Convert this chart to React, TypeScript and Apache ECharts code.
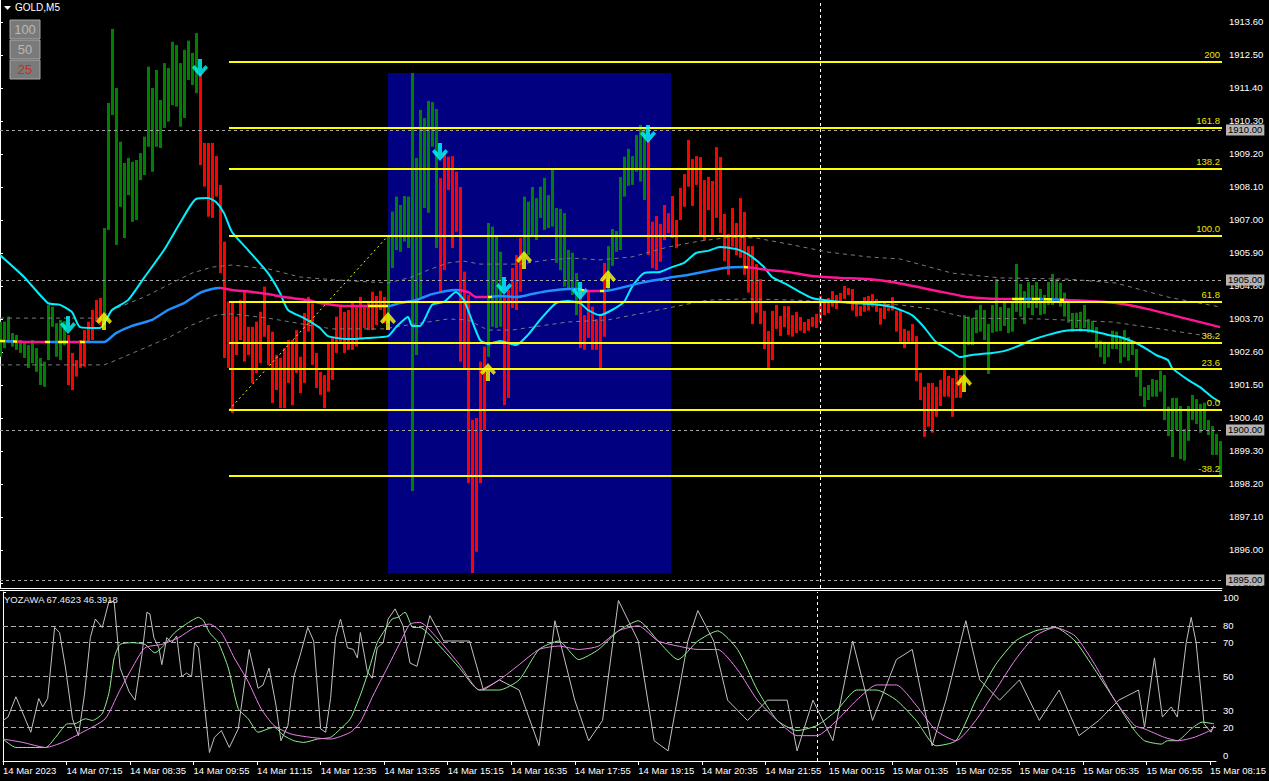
import React, { useEffect, useRef } from 'react';
import * as echarts from 'echarts';

const tickLabels = ['14 Mar 2023','14 Mar 07:15','14 Mar 08:35','14 Mar 09:55','14 Mar 11:15','14 Mar 12:35','14 Mar 13:55','14 Mar 15:15','14 Mar 16:35','14 Mar 17:55','14 Mar 19:15','14 Mar 20:35','14 Mar 21:55','15 Mar 00:15','15 Mar 01:35','15 Mar 02:55','15 Mar 04:15','15 Mar 05:35','15 Mar 06:55','15 Mar 08:15'];
const priceTicks = [1913.6,1912.5,1911.4,1910.3,1909.2,1908.1,1907.0,1905.9,1904.8,1903.7,1902.6,1901.5,1900.4,1899.3,1898.2,1897.1,1896.0,1894.9];
const oscTicks = [100,80,70,50,30,20,0];

const barTop = [1903.61,1903.61,1903.78,1903.23,1903.17,1903.00,1902.94,1902.83,1903.00,1902.73,1902.40,1902.28,1904.17,1904.11,1903.56,1903.67,1903.63,1903.17,1902.57,1902.33,1903.00,1903.33,1903.61,1904.00,1904.33,1904.40,1906.73,1910.90,1913.37,1911.40,1909.61,1908.90,1909.07,1908.94,1909.00,1909.23,1909.78,1912.11,1911.40,1912.00,1911.00,1912.23,1912.07,1912.94,1912.83,1912.23,1912.67,1912.98,1912.57,1913.23,1911.90,1909.57,1909.57,1909.57,1909.13,1908.17,1906.28,1904.28,1904.23,1903.78,1904.33,1904.61,1903.44,1903.44,1903.61,1903.94,1904.78,1903.50,1903.28,1902.50,1902.40,1902.73,1903.00,1903.00,1903.33,1902.44,1903.90,1904.44,1904.22,1902.57,1901.94,1901.83,1902.94,1903.11,1903.78,1904.17,1903.94,1904.00,1904.23,1904.11,1904.44,1904.17,1904.23,1904.61,1904.47,1904.64,1904.44,1906.44,1907.28,1907.78,1907.50,1907.80,1907.78,1911.90,1909.07,1910.67,1910.40,1910.97,1910.93,1910.70,1908.40,1909.23,1909.11,1909.13,1908.61,1908.10,1905.28,1904.50,1900.33,1900.40,1902.28,1902.78,1906.90,1906.78,1906.44,1905.94,1904.44,1904.67,1905.40,1905.83,1906.40,1907.78,1907.61,1908.10,1907.73,1908.11,1908.40,1907.83,1908.67,1907.40,1907.37,1907.23,1906.00,1905.91,1905.23,1904.61,1903.83,1904.61,1904.11,1903.70,1903.83,1905.57,1906.13,1906.70,1906.63,1908.43,1909.11,1909.37,1909.13,1909.83,1910.17,1910.07,1909.67,1906.94,1907.13,1906.87,1907.50,1907.23,1907.80,1907.00,1908.07,1908.53,1909.67,1909.03,1909.13,1909.10,1908.33,1908.44,1908.30,1909.43,1909.10,1907.20,1906.53,1907.40,1906.90,1907.73,1907.27,1906.13,1906.13,1905.53,1905.03,1903.97,1903.30,1903.97,1904.17,1903.80,1904.13,1904.13,1903.83,1903.93,1903.77,1903.60,1903.70,1903.77,1903.87,1904.47,1904.30,1904.40,1904.63,1904.50,1904.57,1904.80,1904.73,1904.70,1904.24,1904.13,1904.43,1904.47,1904.53,1904.37,1904.07,1904.24,1904.08,1904.43,1903.98,1903.97,1903.37,1903.31,1903.53,1903.13,1901.91,1901.44,1901.57,1901.57,1901.44,1901.67,1902.00,1901.80,1901.73,1902.00,1901.83,1903.83,1903.78,1903.73,1904.00,1904.17,1904.00,1903.53,1904.17,1905.03,1904.10,1904.31,1904.07,1904.23,1905.53,1904.87,1904.63,1904.93,1904.83,1904.93,1904.70,1904.50,1904.93,1905.20,1905.03,1904.91,1904.58,1904.23,1903.90,1903.91,1903.94,1904.17,1903.70,1903.64,1903.43,1902.98,1902.94,1902.94,1903.31,1903.28,1903.10,1903.33,1903.10,1902.94,1902.70,1902.00,1901.43,1901.50,1901.70,1901.67,1901.98,1901.83,1900.78,1901.07,1901.07,1900.80,1900.03,1900.80,1901.17,1901.03,1900.87,1900.91,1900.33,1900.13,1899.87,1899.63];
const barBottom = [1902.44,1902.73,1902.90,1902.78,1902.67,1902.57,1902.40,1902.07,1902.23,1901.94,1901.50,1901.44,1902.33,1903.44,1902.44,1902.33,1902.83,1901.50,1901.33,1901.78,1902.07,1902.11,1902.90,1903.00,1903.61,1903.50,1903.61,1906.67,1910.50,1906.17,1907.44,1906.40,1907.83,1906.94,1907.00,1908.33,1908.50,1909.44,1908.61,1909.44,1909.40,1910.07,1910.28,1910.83,1910.78,1910.11,1910.40,1911.67,1911.50,1911.23,1908.83,1908.11,1907.11,1907.07,1907.78,1905.23,1902.40,1902.07,1900.57,1902.50,1903.00,1902.28,1902.50,1901.57,1901.90,1902.23,1903.11,1902.17,1900.90,1901.33,1900.73,1900.73,1901.57,1900.83,1901.90,1901.23,1901.57,1903.28,1902.17,1901.40,1901.17,1900.73,1901.28,1901.67,1902.57,1902.94,1902.57,1902.67,1902.67,1902.78,1903.07,1903.40,1903.33,1903.33,1903.50,1904.00,1903.57,1903.57,1905.40,1906.00,1905.94,1906.28,1906.07,1897.97,1902.50,1904.44,1907.40,1907.24,1909.44,1906.07,1904.61,1905.33,1908.00,1906.07,1906.61,1902.28,1902.07,1898.23,1895.23,1895.94,1898.23,1900.00,1902.44,1903.44,1903.40,1903.44,1900.83,1901.07,1904.07,1904.00,1904.61,1905.78,1905.83,1906.44,1906.33,1907.07,1906.67,1906.73,1906.78,1905.57,1905.33,1904.78,1904.67,1904.50,1903.83,1902.73,1902.67,1903.07,1902.67,1902.67,1902.07,1903.11,1904.61,1905.47,1905.94,1906.00,1907.78,1908.14,1908.17,1908.61,1908.28,1907.67,1905.83,1905.40,1905.33,1905.61,1906.33,1906.57,1906.40,1906.07,1907.00,1907.44,1908.11,1907.47,1908.17,1906.43,1906.31,1907.33,1906.47,1907.07,1906.57,1905.63,1905.17,1906.11,1905.83,1905.74,1905.17,1904.58,1903.53,1903.91,1903.53,1902.70,1902.07,1902.33,1903.37,1903.13,1903.43,1903.17,1903.11,1903.23,1903.31,1903.23,1903.31,1903.44,1903.40,1903.58,1903.83,1903.90,1904.11,1904.03,1904.24,1904.37,1904.50,1903.98,1903.78,1903.80,1903.94,1903.98,1904.11,1903.94,1903.51,1903.70,1903.97,1903.98,1903.28,1902.94,1902.73,1902.94,1902.94,1901.63,1901.00,1899.77,1900.11,1899.91,1900.44,1900.80,1901.11,1901.11,1900.44,1901.07,1901.07,1901.50,1902.83,1902.83,1903.23,1903.28,1903.00,1901.87,1903.24,1903.28,1903.30,1903.47,1903.23,1903.28,1903.94,1903.78,1903.53,1904.07,1903.83,1904.07,1903.83,1903.87,1904.17,1904.17,1904.33,1904.11,1903.78,1903.58,1903.28,1903.40,1903.28,1903.40,1903.24,1903.23,1902.73,1902.43,1902.20,1902.43,1902.70,1902.70,1902.23,1902.43,1902.31,1902.50,1901.77,1901.13,1900.77,1901.00,1901.11,1901.11,1901.28,1900.33,1899.80,1899.10,1900.00,1899.03,1898.98,1899.64,1900.33,1900.20,1899.91,1900.00,1899.83,1899.17,1899.17,1898.44];
// runs of bar colours: G = rising (green), R = falling (red)
const barColorRuns: [number, string][] = [[17,'G'],[9,'R'],[24,'G'],[47,'R'],[13,'G'],[12,'R'],[4,'G'],[5,'R'],[14,'G'],[7,'R'],[10,'G'],[79,'R'],[65,'G']];

const fastMA: [number, number][] = [[0,1905.83],[6,1905.10],[12,1904.23],[15,1904.17],[18,1903.93],[20,1903.43],[25,1903.40],[28,1904.00],[32,1904.33],[36,1905.07],[41,1906.00],[45,1906.90],[49,1907.70],[52,1907.73],[54,1907.60],[56,1907.23],[58,1906.60],[62,1906.00],[67,1905.23],[70,1904.57],[72,1904.00],[76,1903.73],[80,1903.40],[82,1903.13],[87,1903.03],[92,1903.07],[97,1903.13],[99,1903.43],[102,1903.77],[103,1903.47],[105,1903.47],[108,1904.17],[111,1904.27],[114,1904.60],[116,1904.33],[117,1904.00],[120,1903.00],[122,1902.87],[125,1902.97],[129,1902.83],[132,1903.17],[135,1903.67],[139,1904.23],[142,1904.30],[145,1904.23],[147,1904.00],[150,1903.83],[153,1904.00],[156,1904.27],[158,1904.77],[161,1905.23],[165,1905.27],[168,1905.43],[171,1905.57],[174,1905.90],[177,1905.97],[180,1906.10],[184,1906.03],[186,1905.93],[188,1905.77],[191,1905.43],[193,1905.10],[197,1904.83],[200,1904.60],[203,1904.40],[206,1904.33],[213,1904.23],[218,1904.20],[223,1904.10],[228,1903.83],[231,1903.43],[234,1902.93],[238,1902.60],[240,1902.43],[243,1902.50],[248,1902.57],[251,1902.63],[254,1902.77],[258,1903.00],[262,1903.17],[266,1903.30],[270,1903.33],[273,1903.30],[277,1903.17],[280,1903.10],[284,1902.90],[287,1902.67],[289,1902.50],[292,1902.33],[293,1902.07],[297,1901.67],[300,1901.43],[303,1901.10],[305,1900.93]];
const slowMA: [number, number][] = [[0,1902.97],[10,1902.93],[20,1902.93],[26,1902.93],[29,1903.23],[33,1903.47],[38,1903.67],[42,1904.00],[46,1904.23],[50,1904.57],[53,1904.70],[55,1904.73],[58,1904.67],[63,1904.60],[67,1904.53],[71,1904.43],[77,1904.33],[80,1904.23],[86,1904.13],[92,1904.13],[97,1904.13],[100,1904.23],[104,1904.33],[108,1904.53],[114,1904.67],[117,1904.60],[119,1904.43],[122,1904.43],[125,1904.47],[129,1904.43],[133,1904.53],[137,1904.63],[142,1904.70],[144,1904.70],[147,1904.63],[151,1904.63],[155,1904.73],[161,1904.93],[167,1905.07],[172,1905.17],[177,1905.30],[181,1905.40],[186,1905.43],[192,1905.33],[197,1905.27],[203,1905.13],[210,1905.07],[217,1905.03],[223,1904.93],[233,1904.67],[242,1904.43],[250,1904.37],[260,1904.37],[272,1904.30],[279,1904.23],[287,1904.03],[296,1903.73],[305,1903.43]];
// colour of the slow average by bar range: B rising, P falling, Y turning
const slowMAColors: [number, number, string][] = [[0,1.25,'Y'],[1.25,3.25,'B'],[3.25,4.25,'Y'],[4.25,11.25,'P'],[11.25,12.5,'Y'],[12.5,14.5,'B'],[14.5,17,'Y'],[17,20,'P'],[20,21.25,'Y'],[21.25,55,'B'],[55,92,'P'],[92,97,'Y'],[97,115,'B'],[115,122,'P'],[122,123,'Y'],[123,145,'B'],[145,146,'Y'],[146,150,'P'],[150,151,'Y'],[151,186,'B'],[186,187,'Y'],[187,253,'P'],[253,256,'Y'],[256,258,'B'],[258,260,'Y'],[260,261,'B'],[261,263,'Y'],[263,265,'B'],[265,266,'Y'],[266,306,'P']];
const bandUpper: [number, number][] = [[0,1903.73],[25,1903.73],[28,1904.00],[36,1904.43],[43,1904.90],[48,1905.23],[53,1905.43],[58,1905.50],[67,1905.37],[75,1905.10],[84,1905.00],[97,1904.90],[103,1905.10],[107,1905.33],[112,1905.57],[116,1905.63],[120,1905.53],[130,1905.53],[137,1905.67],[143,1905.73],[150,1905.67],[158,1905.77],[167,1906.10],[175,1906.30],[183,1906.43],[189,1906.40],[197,1906.20],[207,1905.93],[217,1905.77],[225,1905.70],[238,1905.23],[250,1905.07],[267,1905.03],[279,1904.90],[292,1904.43],[305,1904.10]];
const bandLower: [number, number][] = [[0,1902.17],[26,1902.17],[28,1902.27],[35,1902.67],[42,1903.07],[48,1903.50],[54,1903.83],[58,1903.87],[67,1903.73],[77,1903.50],[83,1903.37],[96,1903.37],[102,1903.50],[112,1903.70],[117,1903.67],[122,1903.33],[128,1903.33],[133,1903.43],[142,1903.60],[152,1903.67],[162,1903.93],[172,1904.20],[177,1904.33],[187,1904.37],[199,1904.33],[212,1904.23],[225,1904.17],[233,1904.03],[242,1903.73],[260,1903.70],[278,1903.60],[287,1903.43],[305,1903.07]];

const fibLevels = [1912.27,1910.07,1908.70,1906.47,1904.27,1902.90,1902.03,1900.67,1898.47];
const fibLabels = ['200','161.8','138.2','100.0','61.8','38.2','23.6','0.0','-38.2'];
const fibAnchor: [number, number][] = [[57.25,1900.67],[97,1906.47]];
const priceLevels = [1910,1905,1900,1895];
const sellArrows: [number, number][] = [[17,1903.50],[50,1912.07],[110,1909.27],[126,1904.80],[145,1904.63],[162,1909.87]];
const buyArrows: [number, number][] = [[26,1903.63],[97,1903.63],[122,1901.93],[131,1905.67],[152,1905.03],[241,1901.57]];
const boxCorners: [number, number][] = [[97,1911.90],[167.75,1895.23]];
const crossBar = 205;
const oscLevels = [80,70,50,30,20];

const oscGray: [number, number][] = [[0,24],[1.25,26],[3.25,38],[4.5,31],[7,17],[9,37],[10,32],[11.25,37],[13,79],[14.25,76],[15.75,55],[17.5,25],[19,15],[20.5,39],[22,73],[23.25,84],[25,79],[26.75,95],[28,94],[29.5,55],[31.75,41],[33.25,36],[35,63],[36.25,88],[37,87],[38,73],[39.25,67],[40,57],[41.25,73],[42.5,70],[43.75,74],[45,50],[46.25,52],[47.5,50],[48.25,70],[49.25,67],[50.75,33],[52,5],[53.25,14],[55,18],[57,8],[59.25,19],[62,66],[64.25,43],[65.5,45],[67,55],[68.75,33],[70,12],[71.75,21],[73.25,50],[75,64],[76.75,79],[78.25,71],[80,19],[81.25,17],[82.5,37],[83.75,73],[85,84],[86.75,67],[88.25,66],[89.25,61],[90,76],[91.75,53],[93,49],[94.25,67],[95.75,70],[97,84],[98.75,90],[100.75,80],[102.5,58],[104.25,56],[107.5,86],[111,71],[117.5,71],[121,42],[125,48],[130,42],[135,9],[139,83],[144,36],[147.5,12],[151,24],[155,95],[160,71],[164,12],[167.5,6],[172.5,71],[175,89],[179,71],[182.5,36],[187.5,24],[192.5,36],[197.5,36],[200,6],[204,36],[209,12],[214,71],[219,24],[225,60],[229,66],[234,9],[237.5,36],[242.5,83],[246,48],[251,36],[256,48],[261,24],[266,42],[271,15],[276,24],[281,36],[286,42],[287.5,20],[290,61],[292,26],[294.25,32],[295.75,26],[298,70],[299.25,85],[300.5,70],[302.5,22],[304.25,17],[305,21]];
const oscGreen: [number, number][] = [[0,13],[3.25,8],[10.75,8],[13.25,14],[16.25,22],[18,22],[20.75,25],[22.5,24],[25,28],[26.75,41],[28,61],[29.5,69],[32.5,70],[35.75,69],[38.25,64],[40.75,69],[43.25,76],[46.75,82],[49.25,85],[50.5,83],[52,76],[54.25,70],[56.75,55],[59.25,31],[61.75,25],[64.25,17],[66.75,19],[68.25,20],[70.75,15],[73.25,12],[75.75,11],[79.25,13],[82.5,14],[85,19],[87.5,25],[90,39],[91.75,51],[94.25,70],[95.75,76],[98,84],[99.5,85],[101.25,88],[103.25,79],[105,79],[110,68],[115,55],[120,42],[125,42],[130,48],[135,66],[140,71],[145,60],[150,66],[155,77],[160,83],[165,71],[170,60],[175,71],[180,77],[185,66],[190,42],[195,24],[200,18],[205,21],[210,30],[215,42],[220,42],[225,36],[230,24],[235,9],[240,12],[245,36],[250,57],[255,71],[260,77],[265,79],[270,71],[275,54],[280,36],[285,18],[287.5,12],[291.75,10],[293.25,12],[295.75,12],[299.25,19],[302,23],[305,22]];
const oscViolet: [number, number][] = [[0,13],[5,11],[10.75,8],[15,11],[20,17],[25.75,25],[29.25,41],[32.5,55],[35.75,67],[40,69],[44.25,73],[48.25,79],[52,81],[55,76],[58.25,61],[61.75,47],[65,31],[68.25,21],[72.5,16],[77.5,14],[82.5,13],[87.5,17],[90,23],[93.25,39],[96.75,55],[100,70],[102.5,81],[105,82],[110,71],[115,57],[120,42],[125,48],[130,57],[135,66],[140,68],[145,66],[150,68],[155,77],[160,80],[165,71],[170,68],[175,66],[180,66],[185,54],[190,36],[195,24],[200,15],[205,15],[210,24],[215,36],[220,45],[225,45],[230,33],[235,18],[240,12],[245,24],[250,42],[255,60],[260,74],[265,79],[270,74],[275,57],[280,36],[285,21],[287.5,19],[292.5,14],[296,12],[300,14],[304,18],[305,20]];

const FONT = '"Liberation Sans", Arial, sans-serif';
const COLORS: Record<string, string> = { B: '#1e90ff', P: '#ff1493', Y: '#ffff00' };
const DOWN_ARROW = 'path://M6 0 H10 V9 L13.5 5.5 L16 8 L8 16.5 L0 8 L2.5 5.5 L6 9 Z';
const UP_ARROW = 'path://M6 16.5 H10 V7.5 L13.5 11 L16 8.5 L8 0 L0 8.5 L2.5 11 L6 7.5 Z';

export default function App() {
  const ref = useRef<HTMLDivElement>(null);
  useEffect(() => {
    if (!ref.current) return;
    const chart = echarts.init(ref.current, undefined, { renderer: 'svg' });
    const dirs: string[] = [];
    barColorRuns.forEach(([n, c]) => { for (let k = 0; k < n; k++) dirs.push(c); });
    const barData = barTop.map((t, i) => [i, t, barBottom[i], dirs[i] === 'G' ? 1 : 0]);
    const xTickValues = tickLabels.map((_, k) => k * 16);
    const oscMax = oscTicks[0];
    const oscMin = oscTicks[oscTicks.length - 1];

    const option: any = {
      animation: false,
      backgroundColor: '#000000',
      textStyle: { fontFamily: FONT },
      grid: [
        { left: 0, top: 0, width: 1222, height: 588 },
        { left: 0, top: 592, width: 1222, height: 169 },
      ],
      xAxis: [
        { type: 'value', gridIndex: 0, min: 0, max: 305.5, axisLine: { show: true, onZero: false, lineStyle: { color: '#ffffff', width: 1 } }, axisTick: { show: false }, axisLabel: { show: false }, splitLine: { show: false } },
        { type: 'value', gridIndex: 1, min: 0, max: 305.5, interval: 16, position: 'bottom',
          axisLine: { show: true, onZero: false, lineStyle: { color: '#ffffff', width: 1 } },
          axisTick: { show: true, length: 4, customValues: xTickValues, lineStyle: { color: '#ffffff' } },
          axisLabel: { show: true, customValues: xTickValues, color: '#ffffff', fontSize: 9.5, fontFamily: FONT, align: 'left', margin: 4,
            formatter: (v: number) => (Math.abs(v % 16) < 1e-6 ? tickLabels[Math.round(v / 16)] ?? '' : '') },
          splitLine: { show: false } },
      ],
      yAxis: [
        { type: 'value', gridIndex: 0, position: 'right', min: 1894.7333, max: 1914.3333, scale: true,
          axisLine: { show: true, lineStyle: { color: '#ffffff' } },
          axisTick: { show: true, length: 3, customValues: priceTicks, lineStyle: { color: '#ffffff' } },
          axisLabel: { show: true, customValues: priceTicks, color: '#ffffff', fontSize: 9.5, fontFamily: FONT, margin: 7, formatter: (v: number) => v.toFixed(2) },
          splitLine: { show: false } },
        { type: 'value', gridIndex: 1, position: 'right', min: 0, max: 100,
          axisLine: { show: true, lineStyle: { color: '#ffffff' } },
          axisTick: { show: true, length: 3, customValues: oscTicks, lineStyle: { color: '#ffffff' } },
          axisLabel: { show: true, customValues: oscTicks, color: '#ffffff', fontSize: 9.5, fontFamily: FONT, margin: 7,
            formatter: (v: number) => (v === oscMax ? `{t|${v}}` : v === oscMin ? `{b|${v}}` : `${v}`),
            rich: {
              t: { padding: [11, 0, 0, 0], color: '#ffffff', fontSize: 9.5, fontFamily: FONT },
              b: { padding: [0, 0, 11, 0], color: '#ffffff', fontSize: 9.5, fontFamily: FONT },
            } },
          splitLine: { show: false } },
      ],
      visualMap: [
        { type: 'piecewise', show: false, seriesIndex: 4, dimension: 0,
          pieces: slowMAColors.map(([a, b, c]) => ({ gte: a, lt: b, color: COLORS[c] })) },
      ],
      series: [
        // 0: bars with the shaded box underneath
        { type: 'custom', xAxisIndex: 0, yAxisIndex: 0, z: 2, clip: true,
          encode: { x: 0, y: [1, 2] },
          data: barData,
          renderItem: (_p: any, api: any) => {
            const i = api.value(0);
            const top = api.coord([i, api.value(1)]);
            const bot = api.coord([i, api.value(2)]);
            return { type: 'rect', shape: { x: top[0] - 1, y: top[1], width: 3, height: Math.max(1, bot[1] - top[1]) },
              style: { fill: api.value(3) ? '#008000' : '#ff0000' } };
          },
          markArea: { silent: true, itemStyle: { color: '#000080', opacity: 1 },
            data: [[{ coord: boxCorners[0] }, { coord: boxCorners[1] }]] },
        },
        // 1,2: envelope bands
        { type: 'line', xAxisIndex: 0, yAxisIndex: 0, z: 3, data: bandUpper, showSymbol: false, symbol: 'none',
          lineStyle: { color: '#7a7a7a', width: 1, type: [4, 4] } },
        { type: 'line', xAxisIndex: 0, yAxisIndex: 0, z: 3, data: bandLower, showSymbol: false, symbol: 'none',
          lineStyle: { color: '#7a7a7a', width: 1, type: [4, 4] } },
        // 3: fast average
        { type: 'line', xAxisIndex: 0, yAxisIndex: 0, z: 4, data: fastMA, showSymbol: false, symbol: 'none', smooth: 0.2,
          lineStyle: { color: '#00f0ff', width: 2 },
          markLine: { silent: true, symbol: ['none', 'none'], z: 3,
            lineStyle: { color: '#a8a8a8', width: 1, type: [3, 3] },
            label: { show: true, position: 'end', distance: 4, color: '#000000', backgroundColor: '#b4b4b4', padding: [1, 2, 0, 2], fontSize: 9.5, fontFamily: FONT },
            data: [
              ...priceLevels.map((p) => ({ yAxis: p, label: { formatter: p.toFixed(2) } })),
              { xAxis: crossBar, label: { show: false }, lineStyle: { color: '#ffffff', type: [3, 3] } },
            ] } },
        // 4: slow average (coloured by direction)
        { type: 'line', xAxisIndex: 0, yAxisIndex: 0, z: 4, data: slowMA, showSymbol: false, symbol: 'none', smooth: 0.2,
          lineStyle: { width: 2.5 } },
        // 5: fibonacci anchor + levels
        { type: 'line', xAxisIndex: 0, yAxisIndex: 0, z: 5, data: fibAnchor, showSymbol: false, symbol: 'none',
          lineStyle: { color: '#ffff00', width: 1, type: [2, 3] },
          markLine: { silent: true, symbol: ['none', 'none'], z: 5,
            lineStyle: { color: '#ffff00', width: 2, type: 'solid' },
            label: { show: true, position: 'insideEndTop', distance: 2, color: '#e8e800', fontSize: 9.5, fontFamily: FONT },
            data: fibLevels.map((lvl, k) => [
              { coord: [fibAnchor[0][0], lvl], label: { formatter: fibLabels[k] } },
              { coord: [305.5, lvl] },
            ]) } },
        // 6,7: signal arrows
        { type: 'scatter', xAxisIndex: 0, yAxisIndex: 0, z: 10, data: sellArrows, symbol: DOWN_ARROW, symbolSize: [16, 18],
          itemStyle: { color: '#00ffff' } },
        { type: 'scatter', xAxisIndex: 0, yAxisIndex: 0, z: 10, data: buyArrows, symbol: UP_ARROW, symbolSize: [16, 18],
          itemStyle: { color: '#ffff00' } },
        // 8-10: oscillator
        { type: 'line', xAxisIndex: 1, yAxisIndex: 1, z: 3, data: oscGray, showSymbol: false, symbol: 'none',
          lineStyle: { color: '#c0c0c0', width: 1 },
          markLine: { silent: true, symbol: ['none', 'none'], z: 2,
            lineStyle: { color: '#b0b0b0', width: 1, type: [5, 3] }, label: { show: false },
            data: [
              ...oscLevels.map((v) => ({ yAxis: v })),
              { xAxis: crossBar, lineStyle: { color: '#ffffff', type: [3, 3] } },
            ] } },
        { type: 'line', xAxisIndex: 1, yAxisIndex: 1, z: 4, data: oscGreen, showSymbol: false, symbol: 'none', smooth: 0.2,
          lineStyle: { color: '#90ee90', width: 1 } },
        { type: 'line', xAxisIndex: 1, yAxisIndex: 1, z: 4, data: oscViolet, showSymbol: false, symbol: 'none', smooth: 0.2,
          lineStyle: { color: '#ee82ee', width: 1 } },
      ],
      graphic: [
        { type: 'line', z: 20, shape: { x1: 0, y1: 590.5, x2: 1222, y2: 590.5 }, style: { stroke: '#ffffff', lineWidth: 1 } },
        { type: 'polygon', z: 20, shape: { points: [[4, 6], [11, 6], [7.5, 10]] }, style: { fill: '#ffffff' } },
        { type: 'text', z: 20, left: 15, top: 2, style: { text: 'GOLD,M5', fill: '#ffffff', font: `10px ${FONT}` } },
        ...['100', '50', '25'].flatMap((t, k) => [
          { type: 'rect', z: 20, shape: { x: 10, y: 20 + k * 20, width: 30, height: 19 }, style: { fill: '#7a7a7a', stroke: '#a8a8a8', lineWidth: 1 } },
          { type: 'text', z: 21, x: 25, y: 29.5 + k * 20, style: { text: t, fill: k === 2 ? '#d02828' : '#b8b8b8', font: `13px ${FONT}`, align: 'center', verticalAlign: 'middle' } },
        ]),
        { type: 'text', z: 20, left: 4, top: 594, style: { text: 'YOZAWA 67.4623 46.3918', fill: '#e8eef4', font: `9.5px ${FONT}` } },
      ],
    };
    chart.setOption(option);
    return () => chart.dispose();
  }, []);
  return <div ref={ref} style={{ position: 'absolute', left: 0, top: 0, width: 1269, height: 781, background: '#000' }} />;
}
